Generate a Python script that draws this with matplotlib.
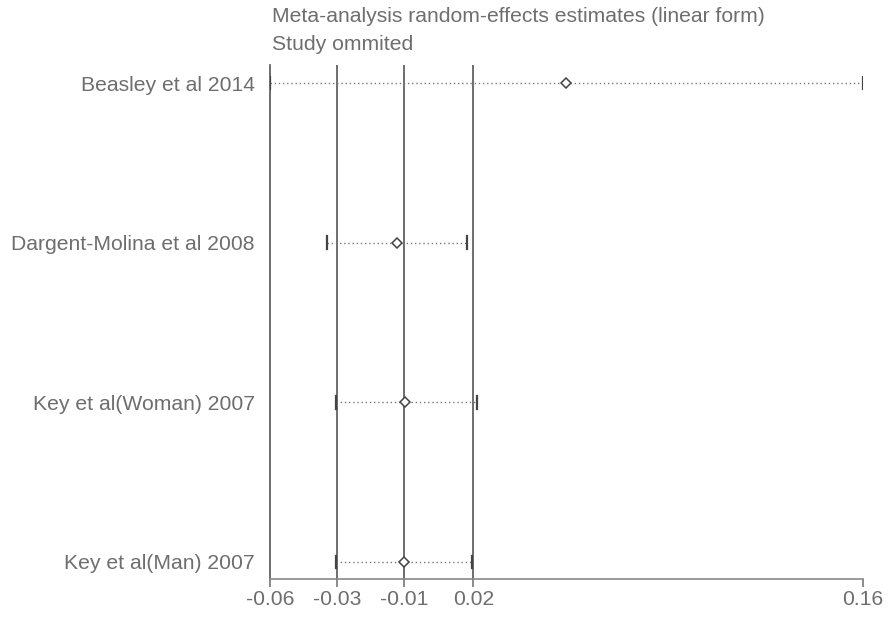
import matplotlib
matplotlib.use("Agg")
import matplotlib.pyplot as plt

studies = ["Beasley et al 2014", "Dargent-Molina et al 2008",
           "Key et al(Woman) 2007", "Key et al(Man) 2007"]
estimate = [0.0502, -0.0108, -0.0077, -0.0081]
lower = [-0.0565, -0.0360, -0.0328, -0.0328]
upper = [0.1575, 0.0145, 0.0181, 0.0163]
overall = [-0.0324, -0.0081, 0.0169]  # lower CI, estimate, upper CI
tick_values = [-0.0565, -0.0324, -0.0081, 0.0169, 0.1575]
tick_labels = ["-0.06", "-0.03", "-0.01", "0.02", "0.16"]
title_lines = ["Meta-analysis random-effects estimates (linear form)", "Study ommited"]

plt.rcParams['font.family'] = ['Liberation Sans', 'DejaVu Sans']
txt = '#6e6e6e'
dark = '#555555'
fs = 15.2

fig = plt.figure(figsize=(8.92, 6.17), dpi=100)
ax = fig.add_axes([270/892, 38/617, 593/892, 514/617])

ys = list(range(len(studies)))
for v in overall:
    ax.axvline(v, color=dark, lw=1.2, zorder=1)
for y, lo, est, hi in zip(ys, lower, estimate, upper):
    ax.plot([lo, hi], [y, y], color='#777777', lw=1.0, ls=(0, (1, 2)), zorder=2)
    ax.plot([lo, lo], [y - 0.04, y + 0.04], color='#444444', lw=1.6, zorder=3)
    ax.plot([hi, hi], [y - 0.04, y + 0.04], color='#444444', lw=1.6, zorder=3)
    ax.plot([est], [y], marker='D', ms=5.5, mfc='white', mec='#444444', mew=1.1, zorder=4)

ax.set_xlim(tick_values[0], tick_values[-1])
ax.set_ylim(3.107, -0.113)
ax.set_yticks(ys)
ax.set_yticklabels(studies, fontsize=fs, color=txt)
ax.tick_params(axis='y', length=0, pad=11)
ax.set_xticks(tick_values)
ax.set_xticklabels(tick_labels, fontsize=fs, color=txt)
ax.tick_params(axis='x', length=6, width=1.2, color='#777777', pad=2, direction='out')
for s in ['top', 'right']:
    ax.spines[s].set_visible(False)
ax.spines['left'].set_color('#555555')
ax.spines['left'].set_linewidth(1.2)
ax.spines['bottom'].set_color('#888888')
ax.spines['bottom'].set_linewidth(1.2)

fig.text(272/892, 1 - 17/617, title_lines[0], fontsize=fs, color=txt, va='center', ha='left')
fig.text(272/892, 1 - 44/617, title_lines[1], fontsize=fs, color=txt, va='center', ha='left')

fig.savefig("out.png", dpi=100)
